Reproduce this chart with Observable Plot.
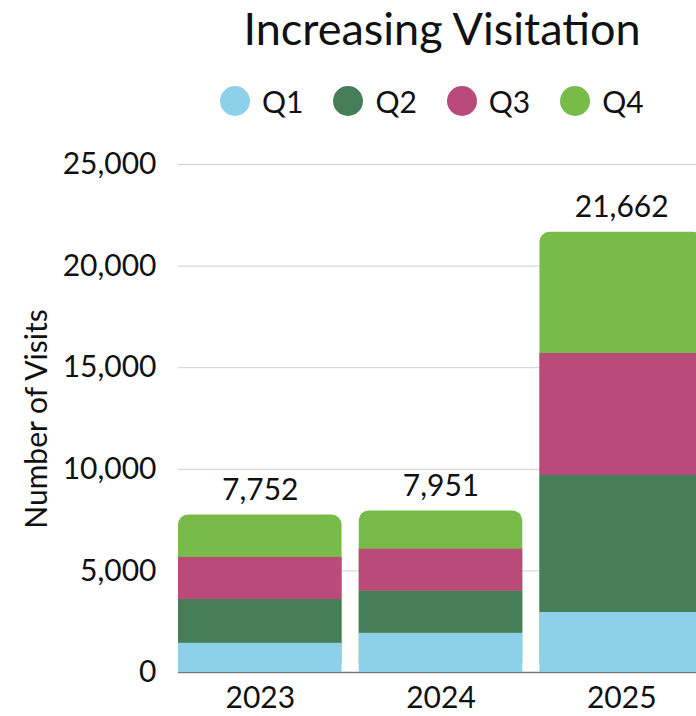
<!DOCTYPE html>
<html>
<head>
<meta charset="utf-8">
<script src="https://cdn.jsdelivr.net/npm/d3@7"></script>
<script src="https://cdn.jsdelivr.net/npm/@observablehq/plot@0.6"></script>
<style>
  html, body { margin: 0; padding: 0; background: #fff; overflow: hidden; width: 696px; height: 716px; }
  body { font-family: Lato, "Noto Sans", sans-serif; color: #111; position: relative; }
  #title { position: absolute; left: 0; width: 884px; top: -3px; text-align: center; font-size: 45px; line-height: 62px; color: #111; white-space: nowrap; }
  #legend { position: absolute; left: 220px; top: 84px; display: flex; font-size: 30px; line-height: 34px; white-space: nowrap; }
  .item { display: flex; align-items: center; margin-right: 30px; }
  .swatch { width: 30px; height: 30px; border-radius: 50%; margin-right: 12px; flex: none; }
  #ylabel { position: absolute; left: 35px; top: 419px; transform: translate(-50%, -50%) rotate(-90deg); font-size: 30px; white-space: nowrap; color: #111; }
  #chart { position: absolute; left: 0; top: 140px; width: 703px; }
  #chart svg { max-width: none !important; display: block; }
</style>
</head>
<body>
<div id="title">Increasing Visitation</div>
<div id="legend"></div>
<div id="ylabel">Number of Visits</div>
<div id="chart"></div>
<script>
const years = ["2023", "2024", "2025"];
const quarters = ["Q1", "Q2", "Q3", "Q4"];
const colors = ["#8dd0ea", "#467e5a", "#b94a79", "#78bb49"];
const q1 = [1440, 1934, 2953];
const q2 = [2150, 2067, 6742];
const q3 = [2070, 2067, 6004];
const q4 = [2092, 1883, 5963];
const yTicks = [0, 5000, 10000, 15000, 20000, 25000];

const series = [q1, q2, q3, q4];
const rows = [];
years.forEach((y, i) => quarters.forEach((q, j) => rows.push({year: y, quarter: q, value: series[j][i]})));
const totals = years.map((y, i) => ({year: y, total: q1[i] + q2[i] + q3[i] + q4[i]}));
const lower = rows.filter(d => d.quarter !== "Q4");
const fmt = d3.format(",");

// legend
const legend = document.getElementById("legend");
quarters.forEach((q, j) => {
  const it = document.createElement("div");
  it.className = "item";
  it.innerHTML = `<span class="swatch" style="background:${colors[j]}"></span><span>${q}</span>`;
  legend.appendChild(it);
});

const chart = Plot.plot({
  width: 703,
  height: 576,
  marginTop: 24,
  marginBottom: 44,
  marginLeft: 178,
  marginRight: 0,
  style: {fontFamily: "Lato, 'Noto Sans', sans-serif", color: "#111", background: "transparent", maxWidth: "none"},
  x: {domain: years, paddingInner: 0.095, paddingOuter: 0, round: false, label: null},
  y: {domain: [0, 25000], label: null},
  color: {domain: quarters, range: colors},
  marks: [
    Plot.gridY(yTicks, {stroke: "#cfcfcf", strokeOpacity: 1, strokeWidth: 1}),
    Plot.ruleY([0], {stroke: "#777", strokeWidth: 1.5}),
    Plot.barY(totals, {x: "year", y: "total", fill: colors[3], rx: 10}),
    Plot.barY(lower, Plot.stackY({x: "year", y: "value", fill: "quarter", order: null})),
    Plot.text(totals, {x: "year", y: "total", text: d => fmt(d.total), dy: -25, fontSize: 30, fill: "#111"}),
    Plot.axisY({ticks: yTicks, tickFormat: d => fmt(d), tickSize: 0, tickPadding: 22, fontSize: 30, label: null}),
    Plot.axisX({tickSize: 0, tickPadding: 14, fontSize: 30, label: null})
  ]
});
document.getElementById("chart").appendChild(chart);
</script>
</body>
</html>
